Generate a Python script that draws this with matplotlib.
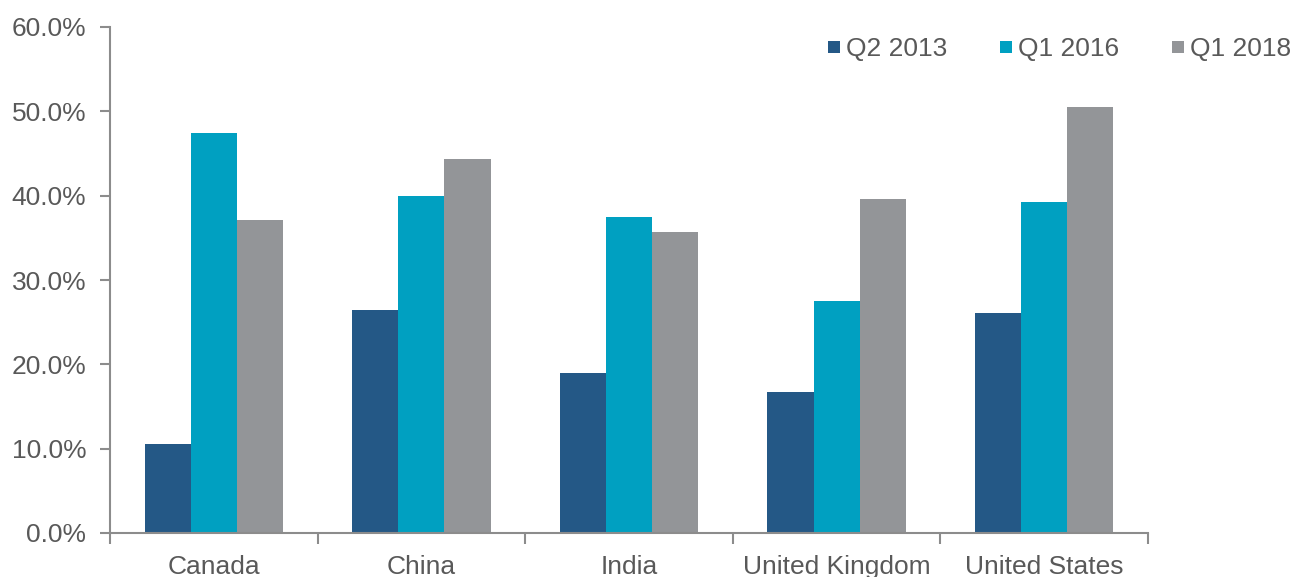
import matplotlib
matplotlib.use("Agg")
import matplotlib.pyplot as plt
from matplotlib.lines import Line2D
import numpy as np

categories = ["Canada", "China", "India", "United Kingdom", "United States"]
series_names = ["Q2 2013", "Q1 2016", "Q1 2018"]
q2_2013 = [10.6, 26.5, 19.0, 16.7, 26.1]
q1_2016 = [47.4, 40.0, 37.5, 27.5, 39.3]
q1_2018 = [37.1, 44.4, 35.7, 39.6, 50.5]
colors = ["#245886", "#00A0C1", "#939598"]
yticks = [0, 10, 20, 30, 40, 50, 60]

plt.rcParams['font.family'] = ['Liberation Sans', 'DejaVu Sans']
text_color = "#595959"
axis_color = "#8C8C8C"
fs = 19

fig = plt.figure(figsize=(12.99, 5.77), dpi=100)
ax = fig.add_axes([110/1299, 44/577, (1148-110)/1299, (533-27)/577])

x = np.arange(len(categories))
w = 0.222
for i, (vals, c) in enumerate(zip([q2_2013, q1_2016, q1_2018], colors)):
    ax.bar(x + (i - 1) * w, vals, width=w, color=c, label=series_names[i], zorder=2)

ax.set_xlim(-0.5, len(categories) - 0.5)
ax.set_ylim(0, 60)
ax.set_yticks(yticks)
ax.set_yticklabels([f"{v:.1f}%" for v in yticks], color=text_color, fontsize=fs)
ax.set_xticks(np.arange(len(categories) + 1) - 0.5)
ax.set_xticklabels([])
ax.set_xticks(x, minor=True)
ax.set_xticklabels(categories, minor=True, color=text_color, fontsize=fs)
ax.tick_params(axis='x', which='major', length=8, width=1.5, color=axis_color, direction='out')
ax.tick_params(axis='x', which='minor', length=0, pad=15.5)
ax.tick_params(axis='y', length=7, width=1.5, color=axis_color, direction='out', pad=10)
for s in ["top", "right"]:
    ax.spines[s].set_visible(False)
for s in ["left", "bottom"]:
    ax.spines[s].set_color(axis_color)
    ax.spines[s].set_linewidth(1.5)

handles = [Line2D([], [], marker='s', linestyle='none', markersize=9, color=c,
                  markeredgewidth=0) for c in colors]
leg = fig.legend(handles, series_names, loc='upper right', bbox_to_anchor=(1291/1299, 1 - 37/577),
                 ncol=3, frameon=False, fontsize=fs, handlelength=0.6, handletextpad=0.15,
                 columnspacing=1.93, borderaxespad=0, borderpad=0, labelcolor=text_color)

fig.savefig("out.png", dpi=100)
